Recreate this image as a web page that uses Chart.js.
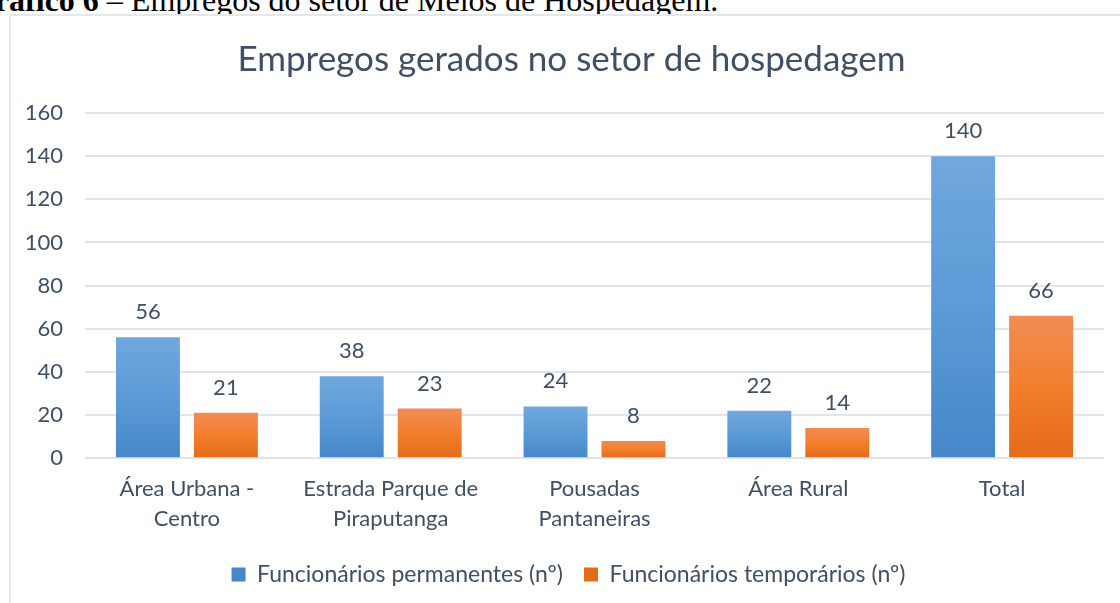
<!DOCTYPE html>
<html>
<head>
<meta charset="utf-8">
<script src="https://cdn.jsdelivr.net/npm/chart.js@4"></script>
<style>
  html, body { margin: 0; padding: 0; background: #fff; overflow: hidden; }
  body { width: 1120px; height: 603px; position: relative; }
  #caption {
    position: absolute; left: -30px; top: -16px;
    font-family: "Liberation Serif", "Times New Roman", serif;
    font-size: 32px; line-height: 32px; color: #000; white-space: nowrap;
  }
  #box {
    position: absolute; left: 9px; top: 14px; width: 1111px; height: 589px;
    border-left: 2px solid #E4E7EC; border-top: 2px solid #E4E7EC;
    box-sizing: border-box; background: #fff;
  }
</style>
</head>
<body>
<div id="caption"><b>Gráfico 6</b> – Empregos do setor de Meios de Hospedagem.</div>
<div id="box"><canvas id="chart"></canvas></div>
<script>
// dados
const categorias = [
  ["Área Urbana -", "Centro"],
  ["Estrada Parque de", "Piraputanga"],
  ["Pousadas", "Pantaneiras"],
  "Área Rural",
  "Total"
];
const permanentes = [56, 38, 24, 22, 140];
const temporarios = [21, 23, 8, 14, 66];
const yTicks = [0, 20, 40, 60, 80, 100, 120, 140, 160];

const corTexto = "#404F64";
const fonte = "Lato, 'Open Sans', sans-serif";

// gradiente por barra (claro em cima, escuro em baixo)
function gradiente(topo, meio, base, solido) {
  return (c) => {
    const chart = c.chart;
    const y = chart.scales && chart.scales.y;
    if (!y || c.raw == null) return solido;
    const y0 = y.getPixelForValue(c.raw);
    const y1 = y.getPixelForValue(0);
    if (!isFinite(y0) || !isFinite(y1) || y0 === y1) return solido;
    const g = chart.ctx.createLinearGradient(0, y0, 0, y1);
    g.addColorStop(0, topo);
    g.addColorStop(0.5, meio);
    g.addColorStop(1, base);
    return g;
  };
}

// rótulos de valor acima das barras
const rotulos = {
  id: "rotulos",
  afterDatasetsDraw(chart) {
    const ctx = chart.ctx;
    ctx.save();
    ctx.font = "22px " + fonte;
    ctx.fillStyle = corTexto;
    ctx.textAlign = "center";
    ctx.textBaseline = "middle";
    chart.data.datasets.forEach((ds, i) => {
      chart.getDatasetMeta(i).data.forEach((bar, j) => {
        ctx.fillText(ds.data[j], bar.x, bar.y - 25);
      });
    });
    ctx.restore();
  }
};

// no original o título e a legenda ficam um pouco à direita do centro
const desloca = {
  id: "desloca",
  afterLayout(chart) {
    const t = chart.titleBlock;
    if (t) { t.left += 13; t.right += 13; }
    const l = chart.legend;
    if (l) { l.left += 10; l.right += 10; }
  }
};

const ctx = document.getElementById("chart").getContext("2d");
new Chart(ctx, {
  type: "bar",
  data: {
    labels: categorias,
    datasets: [
      {
        label: "Funcionários permanentes (nº)",
        data: permanentes,
        backgroundColor: gradiente("#71A7DD", "#5B9BD7", "#4587C8", "#5B9BD5"),
        categoryPercentage: 0.765,
        barPercentage: 0.82
      },
      {
        label: "Funcionários temporários (nº)",
        data: temporarios,
        backgroundColor: gradiente("#F18C55", "#F47E2C", "#E46B18", "#ED7D31"),
        categoryPercentage: 0.765,
        barPercentage: 0.82
      }
    ]
  },
  options: {
    responsive: true,
    maintainAspectRatio: false,
    animation: false,
    layout: { padding: { left: 2, right: 16, top: 18, bottom: 7 } },
    plugins: {
      title: {
        display: true,
        text: "Empregos gerados no setor de hospedagem",
        color: corTexto,
        font: { family: fonte, size: 35, weight: "normal" },
        padding: { top: 5, bottom: 32 }
      },
      legend: {
        position: "bottom",
        labels: {
          color: corTexto,
          font: { family: fonte, size: 23 },
          boxWidth: 14,
          boxHeight: 14,
          padding: 21
        }
      },
      tooltip: { enabled: false }
    },
    scales: {
      x: {
        grid: { display: false },
        border: { display: false },
        ticks: {
          color: corTexto,
          font: { family: fonte, size: 22, lineHeight: 1.36 },
          padding: 8,
          maxRotation: 0
        }
      },
      y: {
        min: 0,
        max: 160,
        afterBuildTicks: (axis) => { axis.ticks = yTicks.map((v) => ({ value: v })); },
        afterFit: (axis) => { axis.width = 72; },
        grid: { color: "#E1E5EB", lineWidth: 2, drawTicks: false },
        border: { display: false },
        ticks: {
          color: corTexto,
          font: { family: fonte, size: 22 },
          padding: 22
        }
      }
    }
  },
  plugins: [rotulos, desloca]
});
</script>
</body>
</html>
